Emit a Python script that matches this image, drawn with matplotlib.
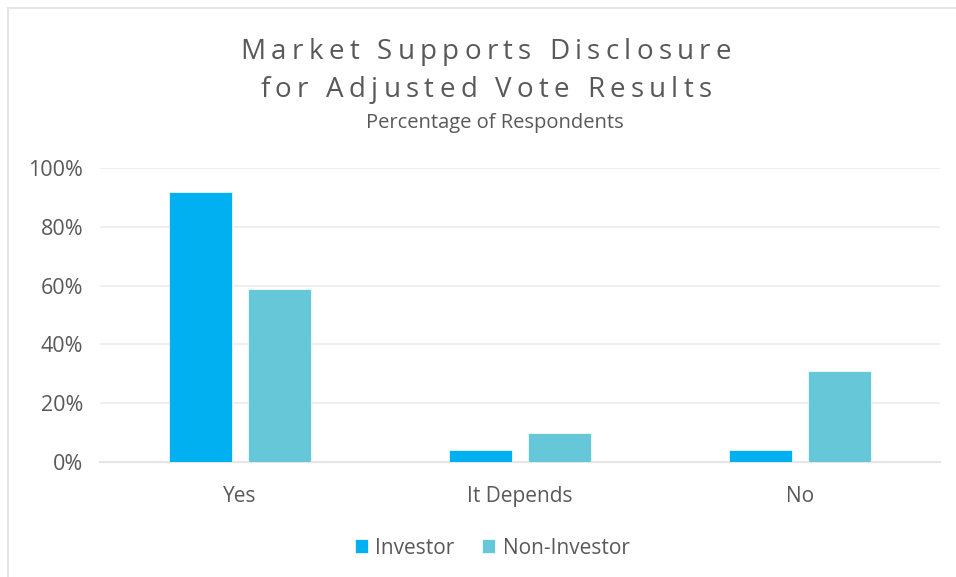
import matplotlib
matplotlib.use("Agg")
import matplotlib.pyplot as plt
import numpy as np
from matplotlib.patches import Rectangle
from matplotlib.ticker import FuncFormatter

categories = ["Yes", "It Depends", "No"]
investor = [92, 4, 4]
non_investor = [59, 10, 31]
series_names = ["Investor", "Non-Investor"]
title_lines = ["Market Supports Disclosure", "for Adjusted Vote Results"]
subtitle = "Percentage of Respondents"

W, H = 956, 577
fig = plt.figure(figsize=(W / 100, H / 100), dpi=100)
plt.rcParams['font.family'] = ['Open Sans', 'DejaVu Sans']
txt = "#595959"

# outer border
fig.patches.append(Rectangle((8 / W, -0.1), 1.2, (H - 8) / H + 0.1, transform=fig.transFigure,
                             fill=False, edgecolor="#e6e6e6", linewidth=1.5))

ax = fig.add_axes([100 / W, 1 - 462 / H, 840 / W, (462 - 168) / H])
x = np.arange(len(categories))
bw = 0.222
off = 0.141
ax.bar(x - off, investor, bw, color="#00B0F0", edgecolor="white", linewidth=0.5, label=series_names[0], zorder=3)
ax.bar(x + off, non_investor, bw, color="#65C7D8", edgecolor="white", linewidth=0.5, label=series_names[1], zorder=3)
ax.set_xlim(-0.5, 2.5)
ax.set_ylim(0, 100)
ax.set_yticks(range(0, 101, 20))
ax.yaxis.set_major_formatter(FuncFormatter(lambda v, p: f"{int(v)}%"))
ax.set_xticks(x)
ax.set_xticklabels(categories)
ax.grid(axis="y", color="#efefef", linewidth=1.5, zorder=0)
for s in ["top", "right", "left"]:
    ax.spines[s].set_visible(False)
ax.spines["bottom"].set_color("#e6e6e6")
ax.spines["bottom"].set_linewidth(1.5)
ax.tick_params(axis="both", length=0, colors=txt)
ax.tick_params(axis="x", pad=17, labelsize=15)
ax.tick_params(axis="y", pad=12, labelsize=15.5)

leg = ax.legend(loc="center", bbox_to_anchor=(492 / W, 1 - 548 / H), bbox_transform=fig.transFigure,
                ncol=2, frameon=False, fontsize=15, handlelength=0.65, handleheight=0.65,
                handletextpad=0.35, columnspacing=1.3)
for t in leg.get_texts():
    t.set_color(txt)

# letter-spaced title
fig.canvas.draw()
renderer = fig.canvas.get_renderer()

def spaced_text(s, yc, size, track):
    widths = []
    for ch in s:
        if ch == " ":
            t = fig.text(0, 0, "a a", fontsize=size)
            t2 = fig.text(0, 0, "aa", fontsize=size)
            w = t.get_window_extent(renderer).width - t2.get_window_extent(renderer).width
            t.remove(); t2.remove()
        else:
            t = fig.text(0, 0, ch, fontsize=size)
            w = t.get_window_extent(renderer).width
            t.remove()
        widths.append(w)
    total = sum(widths) + track * (len(s) - 1)
    xpos = (W - total) / 2 + 8
    for ch, w in zip(s, widths):
        if ch != " ":
            fig.text(xpos / W, yc, ch, fontsize=size, color=txt, ha="left", va="baseline")
        xpos += w + track

spaced_text(title_lines[0], 1 - 59 / H, 20, 5.3)
spaced_text(title_lines[1], 1 - 97 / H, 20, 5.3)
fig.text(495 / W, 1 - 123 / H, subtitle, fontsize=14.5, color=txt, ha="center", va="center")

fig.savefig("out.png", dpi=100)
